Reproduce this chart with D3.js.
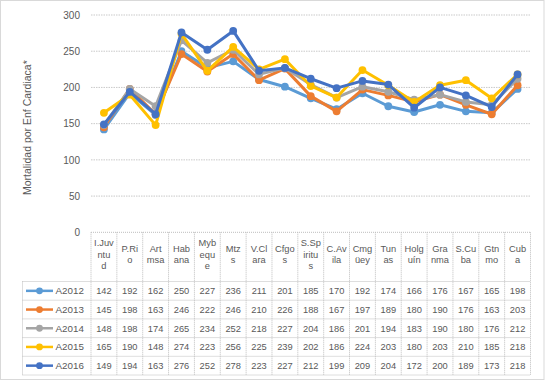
<!DOCTYPE html>
<html><head><meta charset="utf-8">
<script src="https://cdn.jsdelivr.net/npm/d3@7"></script>
<style>
html,body{margin:0;padding:0;background:#fff;}
text{font-family:"Liberation Sans",Arial,sans-serif;fill:#595959;}
</style></head>
<body><svg id="c" width="545" height="383"></svg>
<script>
const categories = ["IJuvntud","P.Rio","Artmsa","Habana","Mybeque","Mtzs","V.Clara","Cfgos","S.Spiritus","C.Avila","Cmgüey","Tunas","Holguín","Granma","S.Cuba","Gtnmo","Cuba"];
const headerLines = [["I.Juv","ntu","d"],["P.Ri","o"],["Art","msa"],["Hab","ana"],["Myb","equ","e"],["Mtz","s"],["V.Cl","ara"],["Cfgo","s"],["S.Sp","iritu","s"],["C.Av","ila"],["Cmg","üey"],["Tun","as"],["Holg","uín"],["Gra","nma"],["S.Cu","ba"],["Gtn","mo"],["Cub","a"]];
const seriesNames = ["A2012","A2013","A2014","A2015","A2016"];
const A2012 = [142,192,162,250,227,236,211,201,185,170,192,174,166,176,167,165,198];
const A2013 = [145,198,163,246,222,246,210,226,188,167,197,189,180,190,176,163,203];
const A2014 = [148,198,174,265,234,252,218,227,204,186,201,194,183,190,180,176,212];
const A2015 = [165,190,148,274,223,256,225,239,202,186,224,203,180,203,210,185,218];
const A2016 = [149,194,163,276,252,278,223,227,212,199,209,204,172,200,189,173,218];
const seriesValues = [A2012,A2013,A2014,A2015,A2016];
const colors = ["#5B9BD5","#ED7D31","#A5A5A5","#FFC000","#4472C4"];
const yTicks = [0,50,100,150,200,250,300];
const yTitle = "Mortalidad por Enf Cardiaca*";

const svg = d3.select("#c");
const L = 91, R = 530.5, T = 15, B = 232.3;
const x = d3.scaleBand().domain(categories).range([L, R]);
const y = d3.scaleLinear().domain([0,300]).range([B, T]);
const grid = "#c9c9c9";

// outer border
svg.append("rect").attr("x",0.5).attr("y",0.5).attr("width",543.5).attr("height",379)
  .attr("fill","none").attr("stroke","#d9d9d9");

// gridlines
svg.append("g").selectAll("line").data(yTicks.filter(d=>d>0)).join("line")
  .attr("x1",L).attr("x2",R).attr("y1",d=>y(d)).attr("y2",d=>y(d))
  .attr("stroke",grid).attr("stroke-dasharray","1.5,1");

// y axis labels
const yAxis = d3.axisLeft(y).tickValues(yTicks).tickSize(0).tickPadding(11);
const ga = svg.append("g").attr("transform",`translate(${L},0)`).call(yAxis);
ga.select(".domain").remove();
ga.selectAll("text").style("font-family","Liberation Sans, Arial, sans-serif").style("font-size","10px").attr("fill","#595959");

// y title
svg.append("text").attr("transform",`translate(31,${(T+B)/2+4}) rotate(-90)`)
  .attr("text-anchor","middle").style("font-size","10.5px").text(yTitle);

// table
const tb = svg.append("g");
const rowTop = 281.5, rowH = 18.7, nRows = seriesNames.length;
const tableBottom = rowTop + rowH*nRows;
const dash = "1,1", tc = "#bdbdbd";
tb.append("line").attr("x1",L).attr("x2",R).attr("y1",B).attr("y2",B).attr("stroke",tc).attr("stroke-dasharray",dash);
const bounds = categories.map(c=>x(c)).concat([R]);
tb.selectAll("line.v").data(bounds).join("line").attr("class","v")
  .attr("x1",d=>d).attr("x2",d=>d).attr("y1",B).attr("y2",tableBottom)
  .attr("stroke",tc).attr("stroke-dasharray",dash);
const LL = 22.5;
tb.append("line").attr("x1",LL).attr("x2",LL).attr("y1",rowTop).attr("y2",tableBottom).attr("stroke",tc).attr("stroke-dasharray",dash);
d3.range(nRows+1).forEach(i=>{
  tb.append("line").attr("x1",LL).attr("x2",R).attr("y1",rowTop+i*rowH).attr("y2",rowTop+i*rowH)
    .attr("stroke",tc).attr("stroke-dasharray",dash);
});
const lh = 11.5;
categories.forEach((c,i)=>{
  const lines = headerLines[i];
  const cx = x(c)+x.bandwidth()/2;
  const mid = 254;
  const y0 = mid - (lines.length-1)*lh/2;
  lines.forEach((t,j)=>{
    tb.append("text").attr("x",cx).attr("y",y0+j*lh+3.5).attr("text-anchor","middle")
      .style("font-size","9.3px").text(t);
  });
});
seriesNames.forEach((s,k)=>{
  const cy = rowTop + rowH*k + rowH/2;
  seriesValues[k].forEach((v,i)=>{
    tb.append("text").attr("x",x(categories[i])+x.bandwidth()/2).attr("y",cy+3.5)
      .attr("text-anchor","middle").style("font-size","9.3px").text(v);
  });
  tb.append("line").attr("x1",26).attr("x2",53).attr("y1",cy).attr("y2",cy)
    .attr("stroke",colors[k]).attr("stroke-width",2.5);
  tb.append("circle").attr("cx",39.5).attr("cy",cy).attr("r",3.4).attr("fill",colors[k]);
  tb.append("text").attr("x",55.5).attr("y",cy+3.5).style("font-size","9.8px").text(s);
});

// lines
const line = d3.line().x((d,i)=>x(categories[i])+x.bandwidth()/2).y(d=>y(d));
seriesValues.forEach((vals,k)=>{
  const g = svg.append("g");
  g.append("path").datum(vals).attr("d",line).attr("fill","none")
    .attr("stroke",colors[k]).attr("stroke-width",3).attr("stroke-linejoin","round");
  g.selectAll("circle").data(vals).join("circle")
    .attr("cx",(d,i)=>x(categories[i])+x.bandwidth()/2).attr("cy",d=>y(d)).attr("r",3.9)
    .attr("fill",colors[k]);
});
</script></body></html>
